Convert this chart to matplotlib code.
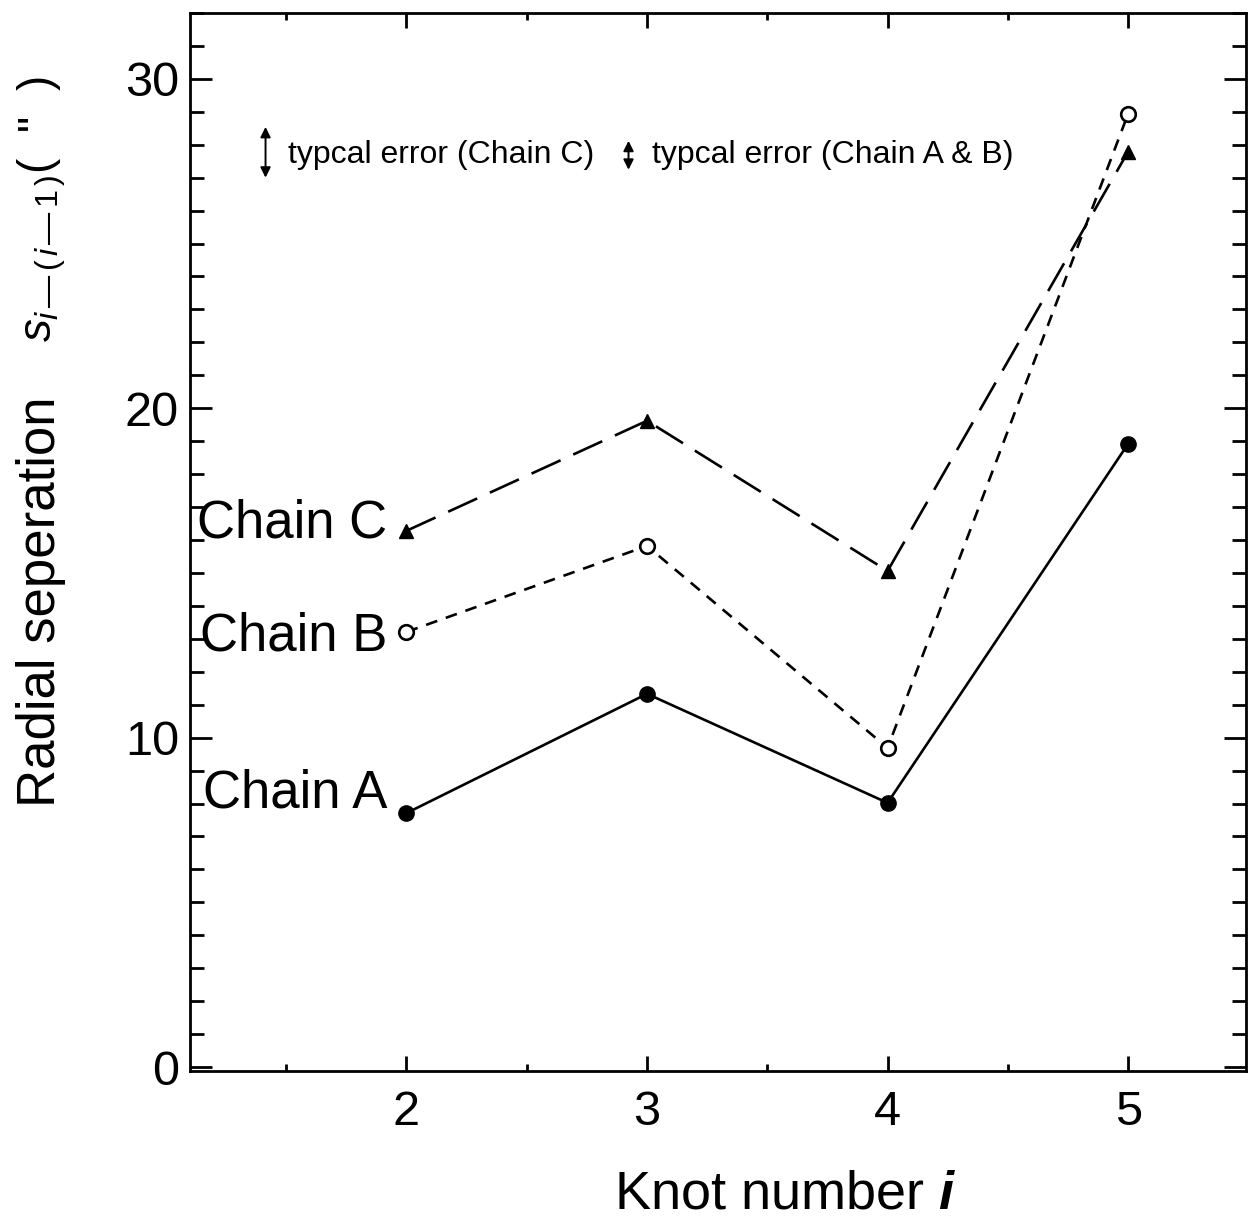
# Radial separation of knots along chains A, B and C
import matplotlib
matplotlib.use("Agg")
import matplotlib.pyplot as plt
from matplotlib.ticker import MultipleLocator

plt.rcParams['font.family'] = ['Liberation Sans', 'DejaVu Sans']
plt.rcParams['mathtext.fontset'] = 'custom'
plt.rcParams['mathtext.rm'] = 'Liberation Sans'
plt.rcParams['mathtext.it'] = 'Liberation Sans:italic'
plt.rcParams['mathtext.bf'] = 'Liberation Sans:bold:italic'
plt.rcParams['lines.scale_dashes'] = False

# knot number and separation values (arcsec)
knots = [2, 3, 4, 5]
chain_a = [7.71, 11.33, 8.02, 18.92]
chain_b = [13.21, 15.82, 9.69, 28.94]
chain_c = [16.28, 19.62, 15.06, 27.79]

# typical error bars shown in the key (half length, centre)
err_x = [1.414, 2.923]
err_y = [27.77, 27.68]
err_half = [0.77, 0.44]
err_text_x = [1.509, 3.019]
err_labels = ["typcal error (Chain C)", "typcal error (Chain A & B)"]

# chain names written left of the first point
chain_names = ["Chain A", "Chain B", "Chain C"]
name_y = [7.87, 12.66, 16.09]

fig = plt.figure(figsize=(12.5, 12.24), dpi=100)
ax = fig.add_axes([0.152, 0.125, 0.8448, 0.8644])

ax.plot(knots, chain_a, color='black', lw=1.9, marker='o', ms=11, zorder=3)
ax.plot(knots, chain_b, color='black', lw=1.9, dashes=(8.5, 6.5),
        marker='o', ms=10.5, mfc='white', mew=1.9, zorder=3)
ax.plot(knots, chain_c, color='black', lw=1.9, dashes=(23, 10),
        marker='^', ms=10, zorder=3)

for name, y in zip(chain_names, name_y):
    ax.text(1.921, y, name, fontsize=38, ha='right', va='baseline')

# key of typical errors
for x, y, h, tx, lab in zip(err_x, err_y, err_half, err_text_x, err_labels):
    ax.annotate("", xy=(x, y + h), xytext=(x, y - h),
                arrowprops=dict(arrowstyle='<|-|>', color='black', lw=1.4,
                                mutation_scale=15, shrinkA=0, shrinkB=0))
    ax.text(tx, 27.7, lab, fontsize=23, ha='left', va='center')

ax.set_xlim(1.1, 5.49)
ax.set_ylim(-0.12, 32.0)
ax.xaxis.set_major_locator(MultipleLocator(1))
ax.xaxis.set_minor_locator(MultipleLocator(0.5))
ax.yaxis.set_major_locator(MultipleLocator(10))
ax.yaxis.set_minor_locator(MultipleLocator(1))

ax.tick_params(axis='both', which='both', direction='in',
               top=True, right=True, width=2, labelsize=35)
ax.tick_params(axis='x', which='major', length=10.5, pad=14)
ax.tick_params(axis='x', which='minor', length=5)
ax.tick_params(axis='y', which='major', length=16, pad=8)
ax.tick_params(axis='y', which='minor', length=10)
for sp in ax.spines.values():
    sp.set_linewidth(2)

fig.text(785 / 1250, 0.024, r"Knot number $\mathbf{i}$", fontsize=39,
         ha='center', va='center')

# y label in two pieces: words, then the symbol with its unit
fig.text(55 / 1250, 1 - 807 / 1224, "Radial seperation", fontsize=38,
         rotation=90, rotation_mode='anchor', ha='left', va='baseline')
fig.text(52 / 1250, 1 - 342 / 1224,
         r"$s_{\mathit{i}\,—\,(\,\mathit{i}\,—\,\mathit{1}\,)}$" + '(  "  )',
         fontsize=33, rotation=90, rotation_mode='anchor',
         ha='left', va='baseline')

fig.savefig("out.png", dpi=100)
